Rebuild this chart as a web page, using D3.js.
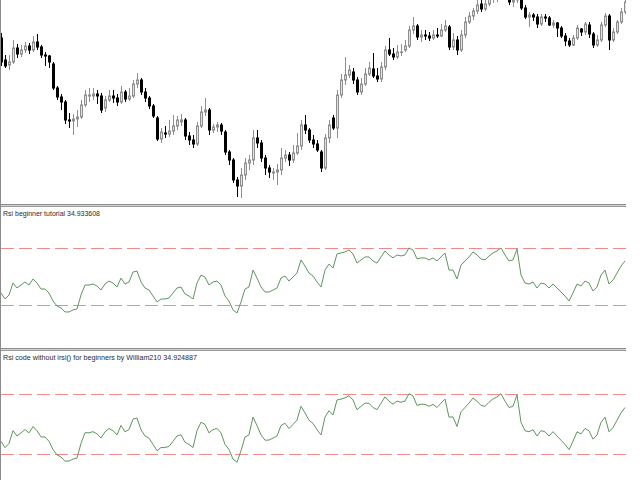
<!DOCTYPE html>
<html><head><meta charset="utf-8">
<script src="https://cdn.jsdelivr.net/npm/d3@7/dist/d3.min.js"></script>
<style>html,body{margin:0;padding:0;background:#fff;}svg{display:block;}</style>
</head><body>
<svg id="chart" width="640" height="480"></svg>
<script>
// ---- data ----
const openP = [1.1162,1.1140,1.1135,1.1138,1.1152,1.1146,1.1150,1.1154,1.1150,1.1158,
1.1153,1.1145,1.1144,1.1136,1.1112,1.1103,1.1098,1.1080,1.1079,1.1081,
1.1083,1.1095,1.1104,1.1104,1.1106,1.1104,1.1092,1.1100,1.1104,1.1102,
1.1098,1.1108,1.1101,1.1104,1.1116,1.1120,1.1108,1.1102,1.1094,1.1082,
1.1061,1.1067,1.1066,1.1069,1.1074,1.1078,1.1080,1.1064,1.1060,1.1056,
1.1074,1.1088,1.1090,1.1070,1.1073,1.1075,1.1068,1.1048,1.1040,1.1020,
1.1014,1.1025,1.1037,1.1040,1.1062,1.1057,1.1042,1.1032,1.1027,1.1028,
1.1030,1.1042,1.1045,1.1040,1.1047,1.1054,1.1075,1.1070,1.1060,1.1056,
1.1048,1.1032,1.1062,1.1082,1.1072,1.1105,1.1120,1.1125,1.1128,1.1120,
1.1108,1.1116,1.1126,1.1131,1.1124,1.1121,1.1133,1.1150,1.1146,1.1143,
1.1148,1.1150,1.1154,1.1170,1.1174,1.1163,1.1165,1.1164,1.1162,1.1165,
1.1164,1.1170,1.1173,1.1153,1.1160,1.1150,1.1165,1.1178,1.1184,1.1189,
1.1196,1.1191,1.1196,1.1202,1.1206,1.1208,1.1212,1.1205,1.1198,1.1200,
1.1208,1.1192,1.1183,1.1185,1.1183,1.1176,1.1183,1.1182,1.1175,1.1177,
1.1172,1.1164,1.1159,1.1155,1.1162,1.1171,1.1168,1.1175,1.1166,1.1155,
1.1160,1.1175,1.1184,1.1160,1.1168,1.1178,1.1188];
const closeP = [1.1138,1.1134,1.1138,1.1152,1.1146,1.1150,1.1154,1.1150,1.1158,1.1153,
1.1145,1.1144,1.1138,1.1112,1.1103,1.1098,1.1080,1.1079,1.1081,1.1083,
1.1095,1.1105,1.1105,1.1106,1.1104,1.1090,1.1100,1.1104,1.1102,1.1098,
1.1108,1.1101,1.1104,1.1116,1.1120,1.1108,1.1102,1.1094,1.1084,1.1061,
1.1068,1.1066,1.1069,1.1074,1.1080,1.1080,1.1064,1.1060,1.1056,1.1074,
1.1088,1.1090,1.1070,1.1073,1.1075,1.1069,1.1048,1.1040,1.1020,1.1014,
1.1025,1.1037,1.1040,1.1062,1.1057,1.1042,1.1032,1.1028,1.1028,1.1030,
1.1042,1.1045,1.1040,1.1047,1.1054,1.1075,1.1070,1.1060,1.1056,1.1050,
1.1032,1.1062,1.1075,1.1072,1.1105,1.1120,1.1125,1.1130,1.1120,1.1108,
1.1116,1.1126,1.1132,1.1124,1.1121,1.1133,1.1150,1.1146,1.1143,1.1148,
1.1148,1.1154,1.1170,1.1174,1.1163,1.1165,1.1164,1.1162,1.1165,1.1164,
1.1170,1.1174,1.1153,1.1160,1.1150,1.1165,1.1178,1.1184,1.1189,1.1195,
1.1191,1.1196,1.1202,1.1206,1.1208,1.1212,1.1205,1.1198,1.1200,1.1210,
1.1192,1.1183,1.1185,1.1183,1.1176,1.1183,1.1182,1.1175,1.1177,1.1172,
1.1164,1.1159,1.1155,1.1162,1.1172,1.1168,1.1176,1.1166,1.1155,1.1160,
1.1175,1.1184,1.1160,1.1168,1.1178,1.1188,1.1198];
const highP = [1.1167,1.1145,1.1145,1.1160,1.1156,1.1155,1.1158,1.1157,1.1164,1.1166,
1.1155,1.1148,1.1145,1.1138,1.1114,1.1106,1.1100,1.1087,1.1086,1.1090,
1.1100,1.1110,1.1112,1.1112,1.1110,1.1107,1.1104,1.1110,1.1110,1.1106,
1.1114,1.1110,1.1112,1.1120,1.1127,1.1122,1.1112,1.1104,1.1096,1.1084,
1.1072,1.1074,1.1080,1.1085,1.1084,1.1086,1.1082,1.1068,1.1065,1.1078,
1.1094,1.1102,1.1092,1.1076,1.1078,1.1077,1.1070,1.1050,1.1042,1.1023,
1.1032,1.1042,1.1045,1.1070,1.1070,1.1060,1.1045,1.1035,1.1032,1.1036,
1.1052,1.1050,1.1048,1.1055,1.1067,1.1080,1.1085,1.1072,1.1065,1.1060,
1.1050,1.1066,1.1080,1.1085,1.1110,1.1126,1.1143,1.1135,1.1132,1.1123,
1.1122,1.1132,1.1138,1.1147,1.1132,1.1138,1.1154,1.1162,1.1152,1.1155,
1.1156,1.1160,1.1174,1.1183,1.1176,1.1170,1.1170,1.1168,1.1170,1.1172,
1.1176,1.1180,1.1175,1.1167,1.1164,1.1170,1.1183,1.1188,1.1192,1.1200,
1.1200,1.1203,1.1206,1.1210,1.1214,1.1218,1.1215,1.1208,1.1206,1.1214,
1.1210,1.1195,1.1188,1.1187,1.1186,1.1186,1.1186,1.1184,1.1180,1.1178,
1.1174,1.1167,1.1162,1.1165,1.1175,1.1172,1.1178,1.1178,1.1168,1.1165,
1.1178,1.1187,1.1186,1.1172,1.1180,1.1192,1.1204];
const lowP = [1.1134,1.1132,1.1130,1.1136,1.1142,1.1143,1.1147,1.1146,1.1148,1.1150,
1.1142,1.1134,1.1132,1.1110,1.1100,1.1090,1.1076,1.1072,1.1065,1.1073,
1.1081,1.1093,1.1098,1.1100,1.1096,1.1087,1.1088,1.1098,1.1097,1.1094,
1.1096,1.1098,1.1099,1.1102,1.1112,1.1105,1.1098,1.1091,1.1082,1.1059,
1.1057,1.1062,1.1063,1.1065,1.1070,1.1074,1.1060,1.1055,1.1052,1.1054,
1.1072,1.1084,1.1065,1.1067,1.1068,1.1065,1.1045,1.1035,1.1017,1.1003,
1.1002,1.1020,1.1030,1.1035,1.1052,1.1038,1.1025,1.1022,1.1020,1.1015,
1.1025,1.1038,1.1034,1.1037,1.1045,1.1050,1.1066,1.1057,1.1052,1.1048,
1.1028,1.1030,1.1057,1.1070,1.1062,1.1102,1.1115,1.1122,1.1116,1.1105,
1.1105,1.1114,1.1124,1.1122,1.1118,1.1118,1.1130,1.1144,1.1140,1.1141,
1.1144,1.1148,1.1152,1.1166,1.1160,1.1158,1.1160,1.1159,1.1160,1.1162,
1.1163,1.1168,1.1150,1.1150,1.1145,1.1148,1.1162,1.1176,1.1180,1.1186,
1.1188,1.1189,1.1194,1.1197,1.1198,1.1202,1.1200,1.1195,1.1193,1.1197,
1.1190,1.1181,1.1173,1.1179,1.1172,1.1174,1.1178,1.1174,1.1172,1.1163,
1.1162,1.1154,1.1153,1.1154,1.1160,1.1164,1.1165,1.1162,1.1152,1.1153,
1.1158,1.1173,1.1150,1.1158,1.1166,1.1176,1.1186];
const rsiTutorial = [38.6,34.4,37.2,45.6,42.1,44.2,46.3,44.2,48.4,45.6,
41.4,41.4,38.6,33.0,29.5,28.1,25.3,25.3,26.7,27.4,
37.2,44.2,44.2,44.9,43.5,40.7,44.9,47.0,45.6,42.8,
49.1,44.9,46.3,53.3,54.0,46.3,42.1,40.7,36.5,32.3,
34.4,34.4,35.1,38.6,42.1,42.8,37.9,36.5,34.4,45.6,
51.2,49.8,44.2,46.3,47.0,44.2,36.5,33.0,26.7,24.6,
32.3,41.4,42.8,54.7,49.1,42.8,39.3,39.3,40.7,42.1,
49.1,50.5,47.0,49.8,52.6,61.8,57.5,52.6,50.5,46.3,
42.8,54.7,58.9,56.1,66.0,66.7,67.4,68.8,66.0,59.6,
61.8,63.9,63.9,61.1,59.6,63.9,68.1,65.3,63.2,65.3,
64.6,65.3,70.2,68.8,62.5,63.2,63.2,61.8,63.2,61.1,
63.9,66.7,54.7,54.7,48.4,58.2,61.1,63.9,67.4,65.3,
62.5,61.8,64.6,66.7,68.1,70.2,65.3,61.1,61.8,69.5,
51.2,45.6,44.9,46.3,42.1,45.6,44.9,42.1,44.9,42.1,
39.3,36.5,33.0,38.6,44.9,43.5,47.0,45.6,40.0,42.8,
51.2,54.7,44.9,47.7,52.6,57.5,61.1];
const rsiCustom = [38.5,34.2,37.0,45.6,42.0,44.1,46.3,44.1,48.3,45.5,
41.4,41.3,38.5,33.0,29.4,28.0,25.2,25.3,26.6,27.3,
37.1,44.2,44.1,44.9,43.4,40.6,44.8,47.0,45.5,42.7,
49.1,44.8,46.3,53.2,54.0,46.2,42.0,40.6,36.4,32.2,
34.3,34.4,35.0,38.5,42.0,42.8,37.8,36.4,34.3,45.5,
51.2,49.7,44.1,46.3,47.0,44.1,36.4,33.0,26.6,24.5,
32.2,41.3,42.8,54.6,49.0,42.7,39.2,39.3,40.6,42.0,
49.0,50.5,47.0,49.7,52.6,61.8,57.4,52.5,50.4,46.2,
42.7,54.6,58.9,56.0,66.0,66.6,67.4,68.8,66.0,59.5,
61.8,63.9,63.8,61.0,59.6,63.8,68.1,65.2,63.2,65.3,
64.5,65.3,70.2,68.7,62.4,63.2,63.1,61.8,63.1,61.0,
63.9,66.6,54.6,54.7,48.3,58.2,61.0,63.9,67.3,65.2,
62.4,61.8,64.5,66.7,68.0,70.2,65.2,61.0,61.8,69.5,
51.1,45.5,44.9,46.2,42.0,45.6,44.8,42.0,44.9,42.0,
39.2,36.4,32.9,38.5,44.8,43.4,47.0,45.5,39.9,42.7,
51.1,54.6,44.8,47.6,52.5,57.4,61.0];
const levels = [70, 30];
const titles = ["Rsi beginner tutorial 34.933608", "Rsi code without irsi() for beginners by William210 34.924887"];

// ---- layout ----
const svg = d3.select("#chart");
const W = 626;
const N = closeP.length;
const x = d3.scaleLinear().domain([0, N - 1]).range([1, 625]);
const yMain = d3.scaleLinear().domain([1.0996, 1.1200]).range([204, 0]);
const ySub = [
  d3.scaleLinear().domain([0, 100]).range([348, 205.5]),
  d3.scaleLinear().domain([0, 100]).range([499, 349])
];
const panels = [
  {id: "cMain", y: 0, h: 204},
  {id: "cSub1", y: 207, h: 141},
  {id: "cSub2", y: 351, h: 129}
];
const defs = svg.append("defs");
panels.forEach(p => defs.append("clipPath").attr("id", p.id)
  .append("rect").attr("x", 1).attr("y", p.y).attr("width", W - 1).attr("height", p.h));

// ---- candles ----
const bars = d3.range(N).map(i => ({i, o: openP[i], h: highP[i], l: lowP[i], c: closeP[i]}));
const gMain = svg.append("g").attr("clip-path", "url(#cMain)");
const cand = gMain.selectAll("g.c").data(bars).join("g").attr("class", "c");
const cx = d => Math.round(x(d.i)) + 0.5;
const bull = d => d.c >= d.o;
cand.append("line")
  .attr("x1", cx).attr("x2", cx)
  .attr("y1", d => yMain(d.h)).attr("y2", d => yMain(d.l))
  .attr("stroke", d => bull(d) ? "#8e8e8e" : "#000").attr("stroke-width", 1);
cand.append("rect")
  .attr("x", d => cx(d) - 1)
  .attr("width", 2)
  .attr("y", d => yMain(Math.max(d.o, d.c)))
  .attr("height", d => Math.max(0.5, yMain(Math.min(d.o, d.c)) - yMain(Math.max(d.o, d.c))))
  .attr("fill", d => bull(d) ? "#e2e2e2" : "#000")
  .attr("stroke", d => bull(d) ? "#8e8e8e" : "#000").attr("stroke-width", 1);

// ---- RSI subwindows ----
[rsiTutorial, rsiCustom].forEach((vals, k) => {
  const ys = ySub[k];
  const g = svg.append("g").attr("clip-path", `url(#${panels[k + 1].id})`);
  levels.forEach(lv => {
    const yy = Math.round(ys(lv)) + 0.5;
    g.append("line").attr("x1", 1).attr("x2", W).attr("y1", yy).attr("y2", yy)
      .attr("stroke", "#f28a8a").attr("stroke-width", 1.2).attr("stroke-dasharray", "13,5");
  });
  const line = d3.line().x((d, i) => x(i)).y(d => ys(d));
  g.append("path").datum(vals).attr("d", line)
    .attr("fill", "none").attr("stroke", "#5f955f").attr("stroke-width", 1)
    .attr("stroke-linejoin", "round");
});

// ---- titles ----
const titleY = [216, 360];
const titleW = [97, 194];
titles.forEach((t, k) => {
  svg.append("text").attr("x", 3).attr("y", titleY[k])
    .attr("font-family", "Liberation Sans, Arial, sans-serif").attr("font-size", 7.6)
    .attr("fill", "#2a2a2a").attr("textLength", titleW[k]).attr("lengthAdjust", "spacingAndGlyphs")
    .text(t);
});

// ---- window separators & frame ----
[204, 348].forEach(yy => {
  svg.append("rect").attr("x", 0).attr("y", yy).attr("width", W).attr("height", 3).attr("fill", "#d4d4d4");
  svg.append("line").attr("x1", 0).attr("x2", W).attr("y1", yy + 0.5).attr("y2", yy + 0.5).attr("stroke", "#8c8c8c");
  svg.append("line").attr("x1", 0).attr("x2", W).attr("y1", yy + 2.5).attr("y2", yy + 2.5).attr("stroke", "#9a9a9a");
});
svg.append("line").attr("x1", 0.5).attr("x2", 0.5).attr("y1", 0).attr("y2", 480).attr("stroke", "#8c8c8c");
</script>
</body></html>
